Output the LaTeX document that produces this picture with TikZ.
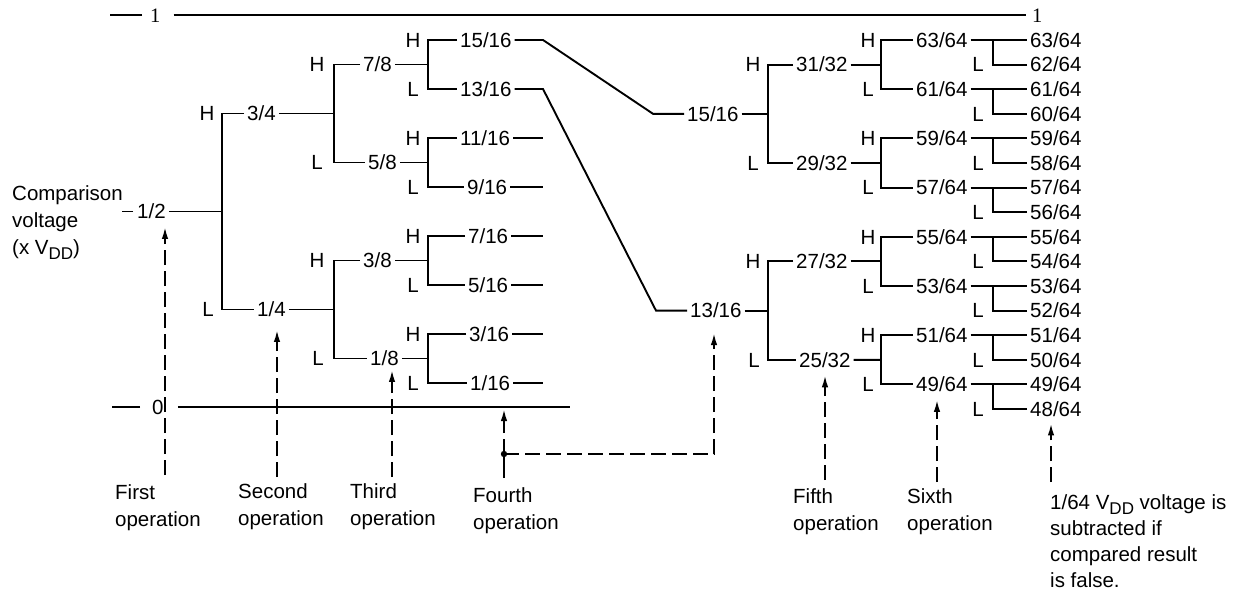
\documentclass[tikz,border=0pt]{standalone}
\usepackage{fontspec}
\setmainfont{Liberation Sans}
\newfontfamily\onefont{Liberation Serif}
\usetikzlibrary{arrows.meta}
\newcommand{\vdd}{V\raisebox{-5pt}{\fontsize{17}{17}\selectfont DD}}

\begin{document}
\begin{tikzpicture}[x=1pt, y=-1pt,
  font=\fontsize{20.5}{27}\selectfont,
  ln/.style   = {line width=1.9pt},
  val/.style  = {anchor=west, inner xsep=3pt, inner ysep=0pt,
                 text height=14.5pt, text depth=0pt},
  hl/.style   = {inner sep=0pt, text height=14.5pt, text depth=0pt},
  op/.style   = {anchor=north west, align=left, inner sep=0pt},
  dsh/.style  = {ln, dash pattern=on 15pt off 6pt},
  upar/.style = {-{Latex[length=12pt, width=6.5pt]}}]
\useasboundingbox (0,0) rectangle (1247,594);

% scale ends
\node[val, font=\onefont\fontsize{20.5}{24}\selectfont] (one) at (147,15) {1};
\node[val, font=\onefont\fontsize{20.5}{24}\selectfont] (oneR) at (1029,15) {1};
\node[val] (zero) at (149,407) {0};
\coordinate (zeroR) at (570,407);
\draw[ln] (one.west) ++(-5,0) -- ++(-32,0);
\draw[ln, shorten <=10pt, shorten >=3pt] (one.east) -- (oneR.west);
\draw[ln] (zero.west) ++(-9,0) -- ++(-28,0);
\draw[ln, shorten <=11pt] (zero.east) -- (zeroR);

\node[op] (cmp) at (12,185) {Comparison\\voltage\\(x \vdd)};

% first tree: 1/2 down to the sixteenths
\node[val] (n12) at (134,211.5) {1/2};
\node[val] (n34) at (244,113.5) {3/4};
\node[val] (n14) at (254,309.5) {1/4};
\node[val] (n78) at (360,64.5) {7/8};
\node[val] (n58) at (365,162.5) {5/8};
\node[val] (n38) at (360,260.5) {3/8};
\node[val] (n18) at (367,358.5) {1/8};
\node[val] (p15) at (457,40) {15/16};
\node[val] (p13) at (457,89) {13/16};
\node[val] (p11) at (457,138) {11/16};
\node[val] (p9)  at (464,187) {9/16};
\node[val] (p7)  at (465,236) {7/16};
\node[val] (p5)  at (465,285) {5/16};
\node[val] (p3)  at (466,334) {3/16};
\node[val] (p1)  at (467,383) {1/16};

\coordinate (c12) at (222,211.5);
\coordinate (c34) at (334,113.5);
\coordinate (c14) at (334,309.5);
\coordinate (c78) at (428,64.5);
\coordinate (c58) at (428,162.5);
\coordinate (c38) at (428,260.5);
\coordinate (c18) at (428,358.5);
\coordinate (rim) at (543,0);

\node[hl] (h34) at (207,113.5) {H};
\node[hl] (l14) at (208,309.5) {L};
\node[hl] (h78) at (317,64.5) {H};
\node[hl] (l58) at (317,162.5) {L};
\node[hl] (h38) at (317,260.5) {H};
\node[hl] (l18) at (318,358.5) {L};
\foreach \v/\y in {15/40,11/138,7/236,3/334} \node[hl] (h\v) at (413,\y) {H};
\foreach \v/\y in {13/89,9/187,5/285,1/383} \node[hl] (l\v) at (413,\y) {L};

\draw[ln] (n12.west) ++(-1,0) -- ++(-11,0);
\draw[ln] (n12.east) -- (c12);
\draw[ln] (n34.west) -| (c12) |- (n14.west);
\draw[ln] (n34.east) -- (c34);
\draw[ln] (n78.west) -| (c34) |- (n58.west);
\draw[ln] (n14.east) -- (c14);
\draw[ln] (n38.west) -| (c14) |- (n18.west);
\draw[ln] (n78.east) -- (c78);
\draw[ln] (p15.west) -| (c78) |- (p13.west);
\draw[ln] (n58.east) -- (c58);
\draw[ln] (p11.west) -| (c58) |- (p9.west);
\draw[ln] (n38.east) -- (c38);
\draw[ln] (p7.west) -| (c38) |- (p5.west);
\draw[ln] (n18.east) -- (c18);
\draw[ln] (p3.west) -| (c18) |- (p1.west);
\foreach \n in {p11,p9,p7,p5,p3,p1} \draw[ln] (\n.east) -- (\n.east -| rim);

% second tree: 15/16 and 13/16 carried on
\node[val] (q15) at (684,113.8) {15/16};
\node[val] (q13) at (687,310.6) {13/16};
\coordinate (k15) at (653,113.8);
\coordinate (k13) at (656,310.6);
\draw[ln] (p15.east) -- (p15.east -| rim) -- (k15) -- (q15.west);
\draw[ln] (p13.east) -- (p13.east -| rim) -- (k13) -- (q13.west);

\coordinate (c15) at (768,113.8);
\coordinate (c13) at (768,310.6);
\node[val] (r31) at (793,64.6) {31/32};
\node[val] (r29) at (793,163) {29/32};
\node[val] (r27) at (793,261.4) {27/32};
\node[val] (r25) at (796,359.8) {25/32};
\node[hl] (h31) at (753,64.6) {H};
\node[hl] (l29) at (753,163) {L};
\node[hl] (h27) at (753,261.4) {H};
\node[hl] (l25) at (754,359.8) {L};
\draw[ln] (q15.east) -- (c15);
\draw[ln] (r31.west) -| (c15) |- (r29.west);
\draw[ln] (q13.east) -- (c13);
\draw[ln] (r27.west) -| (c13) |- (r25.west);

% sixty-fourths
\foreach \v [count=\i from 0] in {63,61,59,57,55,53,51,49} {
  \pgfmathsetmacro{\yy}{40+49.2*\i}
  \pgfmathtruncatemacro{\w}{\v-1}
  \node[val] (s\v) at (913,\yy) {\v/64};
  \node[val] (t\v) at (1027,\yy) {\v/64};
  \node[val] (t\w) at (1027,\yy+24.6) {\w/64};
  \coordinate (d\v) at (993,\yy);
  \node[hl] (lt\w) at (978,\yy+24.6) {L};
  \draw[ln] (s\v.east) -- (t\v.west);
  \draw[ln] (t\w.west) -| (d\v);
}
\foreach \v/\a/\b/\i in {31/63/61/0, 29/59/57/1, 27/55/53/2, 25/51/49/3} {
  \pgfmathsetmacro{\yy}{64.6+98.4*\i}
  \coordinate (c\v) at (881,\yy);
  \draw[ln] (r\v.east) -- (c\v);
  \draw[ln] (s\a.west) -| (c\v) |- (s\b.west);
  \node[hl] (hs\a) at (868,\yy-24.6) {H};
  \node[hl] (ls\b) at (868,\yy+24.6) {L};
}

% operations
\node[op] (op1) at (115,484) {First\\operation};
\node[op] (op2) at (238,483) {Second\\operation};
\node[op] (op3) at (350,483) {Third\\operation};
\node[op] (op4) at (473,487) {Fourth\\operation};
\node[op] (op5) at (793,488) {Fifth\\operation};
\node[op] (op6) at (907,488) {Sixth\\operation};
\node[op, font=\fontsize{20.5}{26.3}\selectfont] (op7) at (1050,494)
  {1/64 \vdd{} voltage is\\subtracted if\\compared result\\is false.};

\coordinate (f1) at (165,475);
\coordinate (f2) at (277,477);
\coordinate (f3) at (392,477);
\coordinate (f4) at (504,478);
\coordinate (f5) at (825,480);
\coordinate (f6) at (937,482);
\coordinate (f7) at (1051,482);
\coordinate (dot) at (504,454);
\coordinate (bend) at (714,454);

\draw[dsh, upar, shorten >=8pt] (f1) -- (f1 |- n12.south);
\draw[dsh, upar, shorten >=13pt] (f2) -- (f2 |- n14.south);
\draw[dsh, upar, shorten >=4pt] (f3) -- (f3 |- n18.south);
\draw[ln] (f4) -- (dot);
\fill (dot) circle (3.2pt);
\draw[dsh, upar, shorten >=2pt] (dot) -- (dot |- zero);
\draw[dsh, upar, shorten >=15pt] (dot) -- (bend) -- (bend |- q13.south);
\draw[dsh, upar, shorten >=8pt] (f5) -- (f5 |- r25.south);
\draw[dsh, upar, shorten >=8pt] (f6) -- (f6 |- s49.south);
\draw[dsh, upar, shorten >=7pt] (f7) -- (f7 |- t48.south);
\end{tikzpicture}
\end{document}
